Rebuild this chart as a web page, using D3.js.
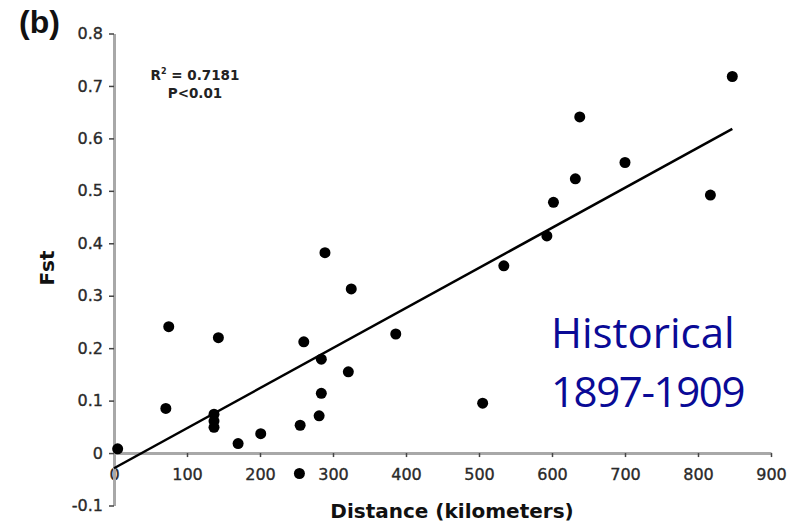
<!DOCTYPE html>
<html>
<head>
<meta charset="utf-8">
<script src="https://cdn.jsdelivr.net/npm/d3@7"></script>
<style>
  body { margin: 0; background: #fff; }
  .tick text { font-family: "DejaVu Sans", Verdana, sans-serif; font-size: 16px; fill: #2a2a2a; stroke: #2a2a2a; stroke-width: 0.35; }
  .domain { stroke: #a8a8a8; stroke-width: 3; }
  .tick line { stroke: #444; stroke-width: 1.5; }
</style>
</head>
<body>
<div class="container"></div>
<script>
// distance (km) and Fst for each population pair
var distance = [5, 71, 75, 137, 137, 137, 143, 170, 201, 255, 254, 260, 281, 284, 284, 321, 289, 325, 386, 505, 534, 593, 602, 632, 638, 700, 817, 847];
var fst = [0.008, 0.085, 0.241, 0.074, 0.061, 0.049, 0.22, 0.018, 0.037, 0.053, -0.039, 0.212, 0.071, 0.114, 0.179, 0.155, 0.382, 0.313, 0.227, 0.095, 0.357, 0.414, 0.478, 0.523, 0.641, 0.554, 0.492, 0.718];

// fitted regression line
var fitX = [0, 847];
var fitIntercept = -0.029;
var fitSlope = 0.000764;

var xTicks = [0, 100, 200, 300, 400, 500, 600, 700, 800, 900];
var yTicks = [-0.1, 0, 0.1, 0.2, 0.3, 0.4, 0.5, 0.6, 0.7, 0.8];
var yTickLabels = ["-0.1", "0", "0.1", "0.2", "0.3", "0.4", "0.5", "0.6", "0.7", "0.8"];

const WIDTH = 805;
const HEIGHT = 523;

var svg = d3.select('.container').append('svg')
  .attr('width', WIDTH)
  .attr('height', HEIGHT);

var xScale = d3.scaleLinear().domain([0, 900]).range([114, 771]);
var yScale = d3.scaleLinear().domain([-0.1, 0.8]).range([505.5, 33.5]);

var yAxis = d3.axisLeft(yScale)
  .tickValues(yTicks)
  .tickSize(5)
  .tickSizeOuter(0)
  .tickPadding(6)
  .tickFormat(function(d, i){ return yTickLabels[i]; });

var xAxis = d3.axisBottom(xScale)
  .tickValues(xTicks)
  .tickSize(4)
  .tickSizeOuter(0)
  .tickPadding(12)
  .tickFormat(d3.format("d"));

svg.append('g')
  .attr('transform', 'translate(0,' + yScale(0) + ')')
  .call(xAxis);

svg.append('g')
  .attr('transform', 'translate(' + xScale(0) + ',0)')
  .call(yAxis);

// regression line
svg.append('path')
  .datum(fitX)
  .attr('fill', 'none')
  .attr('stroke', '#000')
  .attr('stroke-width', 2.5)
  .attr('d', d3.line()
    .x(function(d){ return xScale(d); })
    .y(function(d){ return yScale(fitIntercept + fitSlope * d); }));

// points
svg.selectAll('circle').data(distance)
  .enter().append('circle')
  .attr('cx', function(d){ return xScale(d); })
  .attr('cy', function(d, i){ return yScale(fst[i]); })
  .attr('r', 5.5)
  .attr('fill', '#000');

// axis titles
svg.append('text')
  .attr('x', 452).attr('y', 518)
  .attr('text-anchor', 'middle')
  .style('font-family', '"DejaVu Sans", Verdana, sans-serif')
  .style('font-weight', 'bold')
  .style('font-size', '20px')
  .attr('fill', '#111')
  .text('Distance (kilometers)');

svg.append('text')
  .attr('transform', 'translate(54,268) rotate(-90)')
  .attr('text-anchor', 'middle')
  .style('font-family', '"DejaVu Sans", Verdana, sans-serif')
  .style('font-weight', 'bold')
  .style('font-size', '20px')
  .attr('fill', '#111')
  .text('Fst');

// panel label
svg.append('text')
  .attr('x', 19).attr('y', 33)
  .style('font-family', '"Liberation Sans", Arial, sans-serif')
  .style('font-weight', 'bold')
  .style('font-size', '32px')
  .attr('fill', '#111')
  .text('(b)');

// statistics
var stats = svg.append('text')
  .attr('text-anchor', 'middle')
  .style('font-family', '"DejaVu Sans", Verdana, sans-serif')
  .style('font-weight', 'bold')
  .style('font-size', '13.5px')
  .attr('fill', '#222');
var r2 = stats.append('tspan').attr('x', 195).attr('y', 80);
r2.append('tspan').text('R');
r2.append('tspan').attr('dy', -6).style('font-size', '8px').text('2');
r2.append('tspan').attr('dy', 6).text(' = 0.7181');
stats.append('tspan').attr('x', 195).attr('y', 98).text('P<0.01');

// period label
var period = svg.append('text')
  .style('font-family', '"Open Sans", "Noto Sans", sans-serif')
  .style('font-size', '42px')
  .attr('fill', '#0a0a96');
period.append('tspan').attr('x', 551).attr('y', 348).text('Historical');
period.append('tspan').attr('x', 551).attr('y', 407).style('letter-spacing', '-1.4px').text('1897-1909');
</script>
</body>
</html>
